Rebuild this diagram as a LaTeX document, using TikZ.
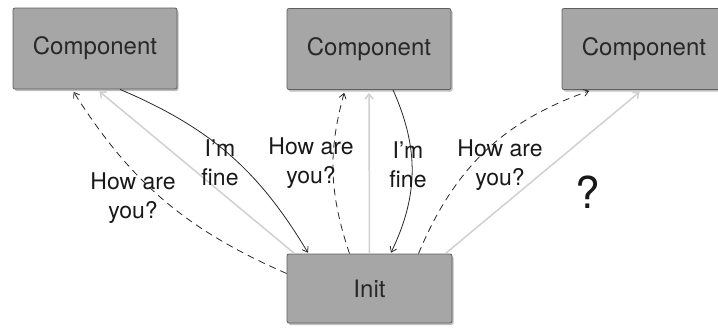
\documentclass[tikz,border=0pt]{standalone}
\usepackage{fontspec}
\setmainfont{TeX Gyre Heros}
\usetikzlibrary{shadows,arrows.meta}

\definecolor{boxgray}{RGB}{166,166,166}
\definecolor{boxline}{RGB}{95,95,95}
\definecolor{softgray}{RGB}{208,208,208}
\definecolor{inkgray}{RGB}{40,40,40}

\tikzset{
  unit/.style={draw=boxline, fill=boxgray, rounded corners=2pt, line width=0.8pt,
    minimum width=164pt, minimum height=81pt,
    drop shadow={shadow xshift=1.5pt, shadow yshift=-2pt, fill=black, opacity=0.25},
    font=\fontsize{24}{29}\selectfont, text=inkgray},
  ask/.style={-{Straight Barb[length=5pt,width=7pt]}, dash pattern=on 7pt off 5pt,
    line width=0.8pt, inkgray, shorten >=3pt},
  reply/.style={-{Straight Barb[length=5pt,width=7pt]}, line width=0.8pt, inkgray, shorten >=1pt},
  ping/.style={-{Straight Barb[length=5pt,width=8pt]}, line width=1.5pt, softgray, shorten >=3pt},
  talk/.style={font=\fontsize{23}{29}\selectfont, align=center, text=black!90},
}

\begin{document}
\begin{tikzpicture}[x=1pt,y=-1pt]
    \useasboundingbox (0,0) rectangle (718,327);

    \node[unit] (c1) at (95,48.5) {Component};
    \node[unit] (c2) at (369,49) {Component};
    \node[unit] (c3) at (644,49) {Component};
    \node[unit, minimum width=165pt, minimum height=69pt] (init) at (369.5,288.5) {Init};

    % left component
    \draw[ask] ([yshift=15pt]init.west) to[bend left=17] ([xshift=-23pt]c1.south);
    \draw[ping] ([xshift=8pt]init.north west) -- ([xshift=2pt]c1.south);
    \draw[reply] ([xshift=25pt]c1.south) to[bend left=18] ([xshift=-61pt]init.north);

    % middle component
    \draw[ask] ([xshift=-20pt]init.north) to[bend left=17] ([xshift=-24pt]c2.south);
    \draw[ping] (init.north) -- (c2.south);
    \draw[reply] ([xshift=24pt]c2.south) to[bend left=25] ([xshift=21pt]init.north);

    % right component
    \draw[ask] ([xshift=49pt]init.north) to[bend left=24] ([xshift=-52pt]c3.south);
    \draw[ping] ([xshift=-7pt]init.north east) -- ([xshift=-2pt]c3.south);

    \node[talk] (ask1) at (133,198) {How are\\you?};
    \node[talk] (fine1) at (220,163) {I’m\\fine};
    \node[talk] (ask2) at (311,163) {How are\\you?};
    \node[talk] (fine2) at (408,165) {I’m\\fine};
    \node[talk] (ask3) at (500,165) {How are\\you?};
    \node[font=\fontsize{44}{44}\selectfont, text=black!90] (unknown) at (588,192) {?};
\end{tikzpicture}
\end{document}
